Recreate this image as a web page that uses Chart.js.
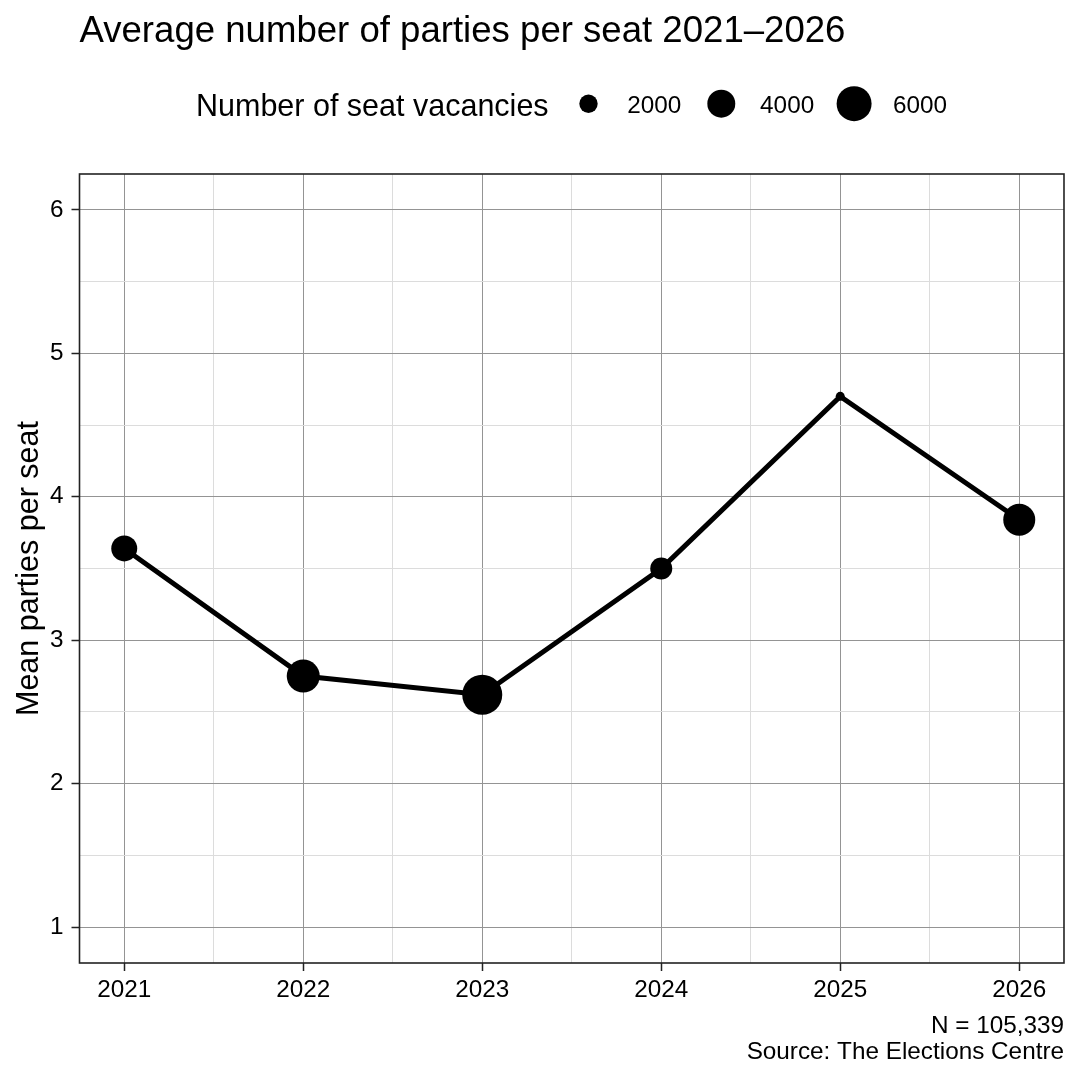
<!DOCTYPE html>
<html>
<head>
<meta charset="utf-8">
<script src="https://cdn.jsdelivr.net/npm/chart.js@4"></script>
<style>
  html, body { margin: 0; padding: 0; background: #fff; }
  #wrap { width: 1080px; height: 1080px; position: relative; }
</style>
</head>
<body>
<div id="wrap"><canvas id="c"></canvas></div>
<script>
// ---- data ----
const years = [2021, 2022, 2023, 2024, 2025, 2026];
const meanParties = [3.64, 2.75, 2.62, 3.50, 4.70, 3.84];
const seatVacancies = [3520, 5390, 7700, 2660, 840, 5100];
const legendBreaks = [2000, 4000, 6000];
const xMajorTicks = [2021, 2022, 2023, 2024, 2025, 2026];
const xMinorTicks = [2021.5, 2022.5, 2023.5, 2024.5, 2025.5];
const yMajorTicks = [1, 2, 3, 4, 5, 6];
const yMinorTicks = [1.5, 2.5, 3.5, 4.5, 5.5];

const titleText = 'Average number of parties per seat 2021\u20132026';
const legendTitle = 'Number of seat vacancies';
const yTitle = 'Mean parties per seat';
const captionLines = ['N = 105,339', 'Source: The Elections Centre'];

// ---- styling helpers ----
const FONT = '"Liberation Sans", Arial, Helvetica, sans-serif';
// point area grows linearly with vacancies (like ggplot's scale_size)
function sizeRadius(v) {
  return Math.sqrt(Math.max(0, 0.05535 * v - 26.1));
}
const isMajor = v => Math.abs(v - Math.round(v)) < 1e-6;

const decoPlugin = {
  id: 'deco',
  afterDatasetsDraw(chart) {
    const a = chart.chartArea;
    const ctx = chart.ctx;
    ctx.save();
    ctx.strokeStyle = '#222';
    ctx.lineWidth = 1.6;
    ctx.strokeRect(a.left, a.top, a.right - a.left, a.bottom - a.top);
    ctx.restore();
  },
  afterDraw(chart) {
    const ctx = chart.ctx;
    const a = chart.chartArea;
    ctx.save();
    ctx.fillStyle = '#000';
    ctx.textAlign = 'left';
    ctx.textBaseline = 'alphabetic';
    // title
    ctx.font = '36.6px ' + FONT;
    ctx.fillText(titleText, a.left, 42);
    // legend
    ctx.font = '30.5px ' + FONT;
    ctx.fillText(legendTitle, 196, 115.5);
    ctx.font = '24.3px ' + FONT;
    legendBreaks.forEach((b, i) => {
      const cx = 588.5 + i * 132.8;
      ctx.beginPath();
      ctx.arc(cx, 103.7, sizeRadius(b), 0, Math.PI * 2);
      ctx.fill();
      ctx.fillText(String(b), cx + 38.8, 113);
    });
    // caption
    ctx.textAlign = 'right';
    ctx.fillText(captionLines[0], a.right, 1032.5);
    ctx.fillText(captionLines[1], a.right, 1058.5);
    ctx.restore();
  }
};

const points = years.map((y, i) => ({ x: y, y: meanParties[i] }));

new Chart(document.getElementById('c'), {
  type: 'line',
  data: {
    datasets: [{
      data: points,
      borderColor: '#000',
      backgroundColor: '#000',
      borderWidth: 5,
      tension: 0,
      pointRadius: ctx => sizeRadius(seatVacancies[ctx.dataIndex]),
      pointHoverRadius: ctx => sizeRadius(seatVacancies[ctx.dataIndex]),
      pointBorderWidth: 0,
      pointBackgroundColor: '#000',
      clip: false
    }]
  },
  options: {
    responsive: true,
    maintainAspectRatio: false,
    devicePixelRatio: 1,
    animation: false,
    events: [],
    layout: { padding: { top: 174, right: 16, bottom: 0, left: 0 } },
    plugins: { legend: { display: false }, tooltip: { enabled: false }, title: { display: false } },
    scales: {
      x: {
        type: 'linear',
        min: 2020.75,
        max: 2026.25,
        afterBuildTicks: s => { s.ticks = xMajorTicks.concat(xMinorTicks).sort((p, q) => p - q).map(v => ({ value: v })); },
        afterFit: s => { s.height = 117; },
        border: { display: false },
        grid: {
          color: c => isMajor(c.tick.value) ? '#949494' : '#dcdcdc',
          lineWidth: 1,
          drawTicks: true,
          tickLength: 8,
          tickWidth: 1.5,
          tickColor: c => isMajor(c.tick.value) ? '#222' : 'rgba(0,0,0,0)'
        },
        ticks: {
          autoSkip: false,
          maxRotation: 0,
          padding: 5,
          color: '#000',
          font: { family: FONT, size: 24.3 },
          callback: v => isMajor(v) ? String(Math.round(v)) : ''
        }
      },
      y: {
        type: 'linear',
        min: 0.75,
        max: 6.25,
        afterBuildTicks: s => { s.ticks = yMajorTicks.concat(yMinorTicks).sort((p, q) => p - q).map(v => ({ value: v })); },
        afterFit: s => { s.width = 79.5; },
        border: { display: false },
        title: {
          display: true,
          text: yTitle,
          color: '#000',
          font: { family: FONT, size: 30.5 },
          padding: { top: 11, bottom: 0 }
        },
        grid: {
          color: c => isMajor(c.tick.value) ? '#949494' : '#dcdcdc',
          lineWidth: 1,
          drawTicks: true,
          tickLength: 8,
          tickWidth: 1.5,
          tickColor: c => isMajor(c.tick.value) ? '#222' : 'rgba(0,0,0,0)'
        },
        ticks: {
          autoSkip: false,
          padding: 8,
          color: '#000',
          font: { family: FONT, size: 24.3 },
          callback: v => isMajor(v) ? String(Math.round(v)) : ''
        }
      }
    }
  },
  plugins: [decoPlugin]
});
</script>
</body>
</html>
